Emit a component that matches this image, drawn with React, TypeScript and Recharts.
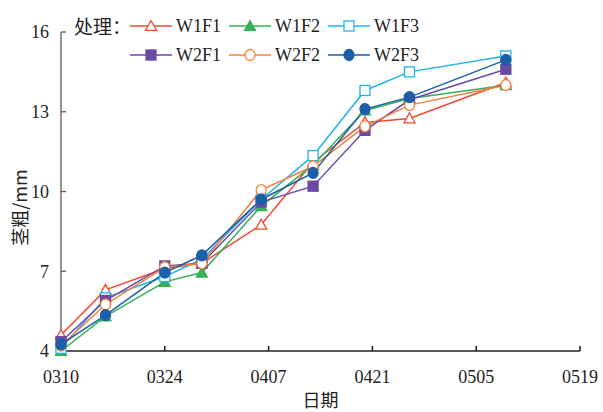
import React from 'react';
import { LineChart, Line, XAxis, YAxis } from 'recharts';

// sampling days counted from 03-10
const days = [0, 6, 14, 19, 27, 34, 41, 47, 60];
const xTicks = [0, 14, 28, 42, 56, 70];
const xTickLabels = ['0310', '0324', '0407', '0421', '0505', '0519'];
const yTicks = [4, 7, 10, 13, 16];

const w1f1 = [4.6, 6.3, 7.1, 7.3, 8.75, 11.1, 12.6, 12.75, 14.1];
const w1f2 = [4.0, 5.3, 6.6, 6.95, 9.45, 11.0, 13.05, 13.5, 14.0];
const w1f3 = [4.1, 6.0, 6.8, 7.45, 9.7, 11.35, 13.8, 14.5, 15.1];
const w2f1 = [4.35, 5.9, 7.2, 7.3, 9.6, 10.2, 12.3, 13.45, 14.6];
const w2f2 = [4.2, 5.75, 7.15, 7.3, 10.05, 10.95, 12.45, 13.25, 14.0];
const w2f3 = [4.25, 5.35, 6.95, 7.6, 9.7, 10.7, 13.1, 13.55, 14.95];

type Shape = 'triangle' | 'square' | 'circle';
type SeriesDef = { key: string; values: number[]; color: string; shape: Shape; filled: boolean };

const series: SeriesDef[] = [
  { key: 'W1F1', values: w1f1, color: '#ef4a30', shape: 'triangle', filled: false },
  { key: 'W1F2', values: w1f2, color: '#35b157', shape: 'triangle', filled: true },
  { key: 'W1F3', values: w1f3, color: '#1eb4e8', shape: 'square', filled: false },
  { key: 'W2F1', values: w2f1, color: '#6a4aa5', shape: 'square', filled: true },
  { key: 'W2F2', values: w2f2, color: '#f47f3a', shape: 'circle', filled: false },
  { key: 'W2F3', values: w2f3, color: '#1b5fa8', shape: 'circle', filled: true },
];

const data = days.map((d, i) => {
  const row: Record<string, number> = { day: d };
  series.forEach((s) => {
    row[s.key] = s.values[i];
  });
  return row;
});

const FONT = '"Liberation Serif", "Times New Roman", "Noto Sans CJK SC", serif';
const CJK = '"Noto Sans CJK SC", "Liberation Serif", serif';

const Marker = ({ cx, cy, s }: { cx: number; cy: number; s: SeriesDef }) => {
  const fill = s.filled ? s.color : '#fff';
  if (s.shape === 'triangle') {
    const r = 5.5;
    const pts = `${cx},${cy - r} ${cx - r},${cy + r * 0.8} ${cx + r},${cy + r * 0.8}`;
    return <polygon points={pts} fill={fill} stroke={s.color} strokeWidth={1.3} />;
  }
  if (s.shape === 'square') {
    return <rect x={cx - 5} y={cy - 5} width={10} height={10} fill={fill} stroke={s.color} strokeWidth={1.3} />;
  }
  return <ellipse cx={cx} cy={cy} rx={5} ry={5.5} fill={fill} stroke={s.color} strokeWidth={1.3} />;
};

// legend sits inside the plot, 3 per row
const LegendBox = () => (
  <div
    style={{
      position: 'absolute',
      left: 74,
      top: 12,
      display: 'flex',
      fontFamily: FONT,
      fontSize: 18,
      color: '#222',
    }}
  >
    <div style={{ fontFamily: CJK, fontSize: 19, lineHeight: '28px', width: 56, whiteSpace: 'nowrap' }}>处理：</div>
    <div style={{ display: 'grid', gridTemplateColumns: '99px 99px 99px', rowGap: 1 }}>
      {series.map((s) => (
        <div key={s.key} style={{ display: 'flex', alignItems: 'center', height: 28 }}>
          <svg width={44} height={20}>
            <line x1={0} y1={10} x2={42} y2={10} stroke={s.color} strokeWidth={1.5} />
            <Marker cx={21} cy={10} s={s} />
          </svg>
          <span style={{ marginLeft: 2 }}>{s.key}</span>
        </div>
      ))}
    </div>
  </div>
);

export default function App() {
  return (
    <div style={{ position: 'absolute', left: 0, top: 0, width: 603, height: 412, background: '#fff' }}>
      <LineChart width={603} height={412} data={data} margin={{ top: 32, right: 23, left: 0, bottom: 0 }}>
        <XAxis
          dataKey="day"
          type="number"
          domain={[0, 70]}
          ticks={xTicks}
          tickFormatter={(v: number) => xTickLabels[xTicks.indexOf(v)]}
          height={61}
          tickSize={-5}
          tickMargin={24}
          stroke="#222"
          strokeWidth={1.6}
          tick={{ fill: '#222', fontSize: 18, fontFamily: FONT }}
          interval={0}
          label={(p: any) => {
            const vb = p.viewBox || { x: 61, y: 351, width: 519, height: 61 };
            return (
              <text x={vb.x + vb.width / 2} y={vb.y + 56} textAnchor="middle" fontSize={18} fontFamily={CJK} fill="#222">
                日期
              </text>
            );
          }}
        />
        <YAxis
          type="number"
          domain={[4, 16]}
          ticks={yTicks}
          width={61}
          tickSize={-5}
          tickMargin={17}
          stroke="#666"
          strokeWidth={1.4}
          interval={0}
          tick={{ fill: '#222', fontSize: 18, fontFamily: FONT }}
          label={(p: any) => {
            const vb = p.viewBox || { x: 0, y: 32, width: 61, height: 319 };
            const cx = vb.x + 19;
            const cy = vb.y + vb.height / 2 + 16;
            return (
              <text x={cx} y={cy} transform={`rotate(-90 ${cx} ${cy})`} textAnchor="middle" dominantBaseline="central" fontSize={18} fontFamily={CJK} fill="#222">
                茎粗/mm
              </text>
            );
          }}
        />
        {series.map((s) => (
          <Line
            key={s.key}
            dataKey={s.key}
            stroke={s.color}
            strokeWidth={1.5}
            isAnimationActive={false}
            dot={(p: any) => <Marker key={`${s.key}-${p.index}`} cx={p.cx} cy={p.cy} s={s} />}
            activeDot={false}
          />
        ))}
      </LineChart>
      <LegendBox />
    </div>
  );
}
